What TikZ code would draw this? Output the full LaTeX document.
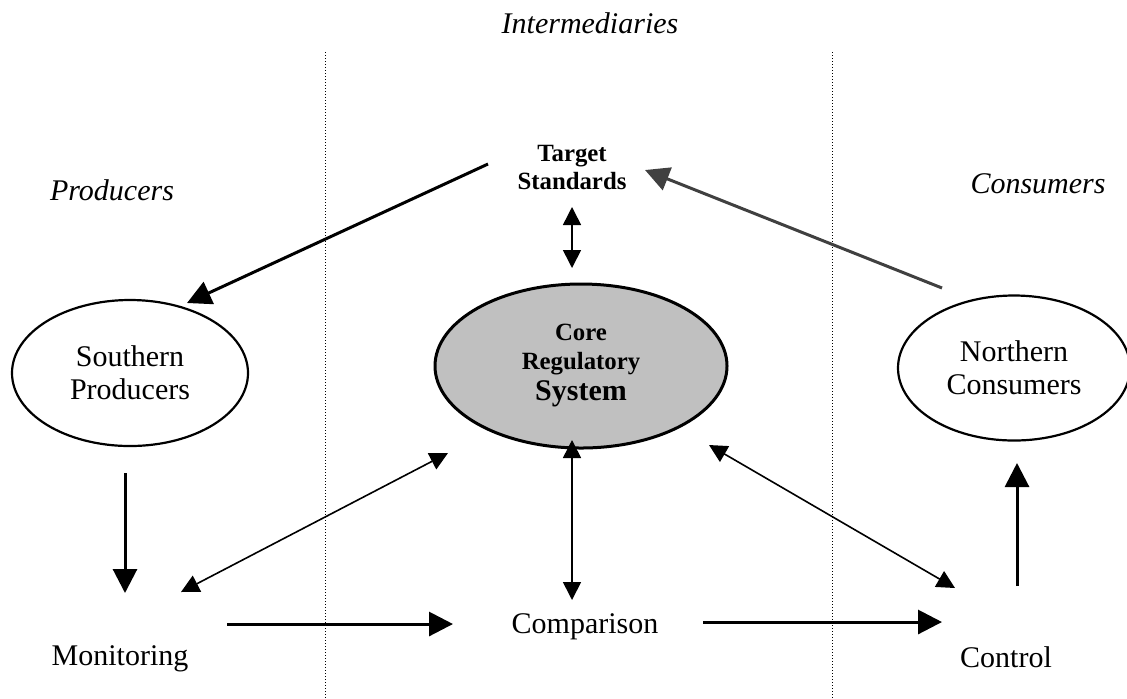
\documentclass[tikz,border=0pt]{standalone}
\usepackage{fontspec}
\setmainfont{Liberation Serif}
\usepackage{tikz}
\usetikzlibrary{arrows.meta, shapes.geometric}
\definecolor{coregray}{HTML}{C0C0C0}
\definecolor{darkarrow}{HTML}{404040}
\tikzset{
  ell/.style = {ellipse, draw, line width=1.1pt, inner sep=0pt, align=center},
  zone/.style = {font=\fontsize{15}{16.5}\selectfont\itshape, anchor=base},
  stage/.style = {font=\fontsize{15}{16.5}\selectfont, anchor=base},
  bigarrow/.style = {-{Triangle[length=12pt,width=12pt]}, line width=1.5pt},
  dblarrow/.style = {{Triangle[length=9pt,width=9pt]}-{Triangle[length=9pt,width=9pt]}, line width=0.8pt}
}

\begin{document}
\begin{tikzpicture}[x=0.5pt, y=-0.5pt, font=\fontsize{15}{16.5}\selectfont]
\useasboundingbox (0,0) rectangle (1127,698);

% the three zones
\foreach \x in {325,832} \draw[densely dotted, line width=0.5pt] (\x,52) -- (\x,698);
\node[zone] (inter) at (590,33) {Intermediaries};
\node[zone] (prod) at (112,200) {Producers};
\node[zone] (cons) at (1038,193) {Consumers};

% the boxes
\node[font=\fontsize{12.4}{14}\selectfont\bfseries, align=center] (target) at (572,167) {Target\\Standards};
\node[ell, line width=1.5pt, fill=coregray, minimum width=146pt, minimum height=82pt,
      font=\fontsize{12.4}{14.5}\selectfont\bfseries] (core) at (581,366)
      {Core\\Regulatory\\[1pt]{\fontsize{15}{15}\selectfont System}};
\node[ell, minimum width=118pt, minimum height=73pt] (south) at (130,373) {Southern\\Producers};
\node[ell, minimum width=116pt, minimum height=72.5pt] (north) at (1014,368) {Northern\\Consumers};
\node[stage] (mon) at (120,665) {Monitoring};
\node[stage] (comp) at (585,633) {Comparison};
\node[stage] (ctrl) at (1006,667) {Control};

% flows
\draw[bigarrow] ([shift={(-84,-3)}]target.center) -- ([shift={(57,-70)}]south.center);
\draw[bigarrow, darkarrow] ([shift={(-72,-80)}]north.center) -- ([shift={(73,3)}]target.center);
\draw[dblarrow] ([shift={(0,40)}]target.center) -- ([shift={(-9,-98)}]core.center);
\draw[dblarrow] ([shift={(-9,74)}]core.center) -- ([shift={(-13,-33)}]comp.base);
\draw[bigarrow] ([shift={(-5,100)}]south.center) -- ([shift={(5,-72)}]mon.base);
\draw[dblarrow] ([shift={(61,-73)}]mon.base) -- ([shift={(-133,87)}]core.center);
\draw[bigarrow] ([shift={(107,-41)}]mon.base) -- ([shift={(-132,-9)}]comp.base);
\draw[bigarrow] ([shift={(118,-11)}]comp.base) -- ([shift={(-64,-45)}]ctrl.base);
\draw[dblarrow] ([shift={(128,79)}]core.center) -- ([shift={(-51,-79)}]ctrl.base);
\draw[bigarrow] ([shift={(11,-81)}]ctrl.base) -- ([shift={(3,95)}]north.center);

\end{tikzpicture}
\end{document}
